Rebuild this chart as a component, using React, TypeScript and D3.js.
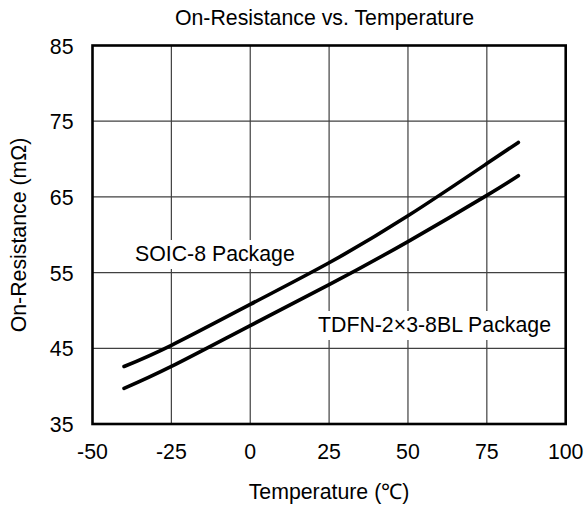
import * as d3 from 'd3'

const temps = [-40, -25, 0, 25, 50, 75, 85]
const soic8 = [42.6, 45.4, 50.8, 56.3, 62.5, 69.4, 72.2]
const tdfn = [39.7, 42.6, 48.0, 53.4, 59.1, 65.2, 67.8]
const xTicks = [-50, -25, 0, 25, 50, 75, 100]
const yTicks = [35, 45, 55, 65, 75, 85]

const W = 585
const H = 507
const FONT = 'Arial, "Liberation Sans", sans-serif'

const x = d3.scaleLinear().domain([-50, 100]).range([92.5, 565.7])
const y = d3.scaleLinear().domain([35, 85]).range([424, 45.5])

const line = d3
  .line<number>()
  .x((_, i) => x(temps[i]))
  .y(d => y(d))
  .curve(d3.curveNatural)

function Label({ text, tx, ty }: { text: string; tx: number; ty: number }) {
  // white box behind the label hides the gridlines
  const w = text.length * 11.8
  return (
    <g>
      <rect x={tx - 4} y={ty - 21} width={w + 8} height={29} fill="#fff" />
      <text x={tx} y={ty} fontSize={21.3} fill="#000">
        {text}
      </text>
    </g>
  )
}

export default function App() {
  const [x0, x1] = x.range()
  const [y0, y1] = y.range()
  return (
    <svg
      width={W}
      height={H}
      style={{ position: 'absolute', left: 0, top: 0, background: '#fff' }}
      fontFamily={FONT}
    >
      <rect width={W} height={H} fill="#fff" />
      <text x={324.5} y={25} textAnchor="middle" fontSize={21.3}>
        On-Resistance vs. Temperature
      </text>

      {xTicks.slice(1, -1).map(t => (
        <line key={'gx' + t} x1={x(t)} x2={x(t)} y1={y1} y2={y0} stroke="#404040" strokeWidth={1.2} />
      ))}
      {yTicks.slice(1, -1).map(t => (
        <line key={'gy' + t} x1={x0} x2={x1} y1={y(t)} y2={y(t)} stroke="#404040" strokeWidth={1.2} />
      ))}

      <Label text="SOIC-8 Package" tx={135} ty={261} />
      <Label text="TDFN-2×3-8BL Package" tx={318} ty={332} />

      <path d={line(soic8) ?? ''} fill="none" stroke="#000" strokeWidth={3.6} strokeLinecap="round" />
      <path d={line(tdfn) ?? ''} fill="none" stroke="#000" strokeWidth={3.6} strokeLinecap="round" />

      <rect x={x0} y={y1} width={x1 - x0} height={y0 - y1} fill="none" stroke="#000" strokeWidth={2.6} />

      {xTicks.map(t => (
        <text key={'tx' + t} x={x(t)} y={458.5} textAnchor="middle" fontSize={21.3}>
          {t}
        </text>
      ))}
      {yTicks.map(t => (
        <text key={'ty' + t} x={73.5} y={y(t) + 8} textAnchor="end" fontSize={21.3}>
          {t}
        </text>
      ))}

      <text x={329} y={499} textAnchor="middle" fontSize={21.3}>
        Temperature (℃)
      </text>
      <text transform="translate(25.5,235) rotate(-90)" textAnchor="middle" fontSize={21.3}>
        On-Resistance (mΩ)
      </text>
    </svg>
  )
}
